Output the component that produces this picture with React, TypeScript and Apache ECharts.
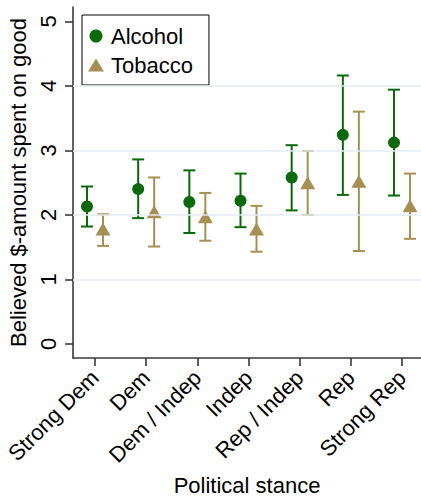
import React, { useEffect, useRef } from "react";
import * as echarts from "echarts";

const categories = ["Strong Dem", "Dem", "Dem / Indep", "Indep", "Rep / Indep", "Rep", "Strong Rep"];
const alcoholMean = [2.13, 2.4, 2.2, 2.22, 2.58, 3.24, 3.12];
const alcoholLow = [1.82, 1.95, 1.72, 1.81, 2.07, 2.31, 2.3];
const alcoholHigh = [2.44, 2.86, 2.69, 2.64, 3.08, 4.16, 3.94];
const tobaccoMean = [1.78, 2.05, 1.97, 1.78, 2.5, 2.52, 2.14];
const tobaccoLow = [1.52, 1.51, 1.6, 1.43, 2.0, 1.44, 1.63];
const tobaccoHigh = [2.01, 2.58, 2.34, 2.14, 2.99, 3.6, 2.64];
const yTicks = [0, 1, 2, 3, 4, 5];
const gridValues = [1, 2, 3, 4];

const GREEN = "#0b690b";
const SAND = "#a68f52";
const FONT = "'Liberation Sans', Arial, Helvetica, sans-serif";
const FS = 22;

function errorSeries(name: string, low: number[], high: number[], color: string, dx: number) {
  return {
    type: "custom",
    name: name + "_ci",
    silent: true,
    z: 2,
    data: low.map((l, i) => [i, l, high[i]]),
    renderItem: (params: any, api: any) => {
      const x = api.value(0);
      const lo = api.coord([x, api.value(1)]);
      const hi = api.coord([x, api.value(2)]);
      const px = lo[0] + dx;
      const cap = 6;
      const style = { stroke: color, lineWidth: 2 };
      return {
        type: "group",
        children: [
          { type: "line", shape: { x1: px, y1: lo[1], x2: px, y2: hi[1] }, style },
          { type: "line", shape: { x1: px - cap, y1: lo[1], x2: px + cap, y2: lo[1] }, style },
          { type: "line", shape: { x1: px - cap, y1: hi[1], x2: px + cap, y2: hi[1] }, style },
        ],
      };
    },
  };
}

export default function App() {
  const ref = useRef<HTMLDivElement>(null);
  useEffect(() => {
    if (!ref.current) return;
    const chart = echarts.init(ref.current, undefined, { renderer: "svg" });
    const axisLineStyle = { color: "#3a3a3a", width: 1.6 };
    chart.setOption({
      animation: false,
      backgroundColor: "#ffffff",
      textStyle: { fontFamily: FONT },
      grid: { left: 73, top: 7, right: 0, bottom: 139, containLabel: false, outerBoundsMode: "none" },
      legend: {
        orient: "vertical",
        left: 82,
        top: 15,
        padding: [10, 16, 9, 6],
        borderColor: "#000",
        borderWidth: 1,
        backgroundColor: "#fff",
        itemWidth: 16,
        itemHeight: 13,
        itemGap: 7,
        textStyle: { fontSize: FS, color: "#000", fontFamily: FONT, lineHeight: 22, padding: [0, 0, 0, 2] },
        data: ["Alcohol", "Tobacco"],
      },
      xAxis: {
        type: "value",
        min: -0.43,
        max: 6.371,
        name: "Political stance",
        nameLocation: "middle",
        nameGap: 116,
        nameTextStyle: { fontSize: FS, color: "#000", fontFamily: FONT },
        axisLine: { show: true, onZero: false, lineStyle: axisLineStyle },
        axisTick: { show: true, length: 8, lineStyle: axisLineStyle, customValues: categories.map((_, i) => i) },
        axisLabel: {
          show: true,
          customValues: categories.map((_, i) => i),
          formatter: (v: number) => categories[Math.round(v)] ?? "",
          rotate: 45,
          margin: 16,
          fontSize: FS,
          color: "#000",
          fontFamily: FONT,
          hideOverlap: false,
        },
        splitLine: { show: false },
      },
      yAxis: {
        type: "value",
        min: -0.217,
        max: 5.221,
        name: "Believed $-amount spent on good",
        nameLocation: "middle",
        nameGap: 29,
        nameRotate: 90,
        nameTextStyle: { fontSize: FS, color: "#000", fontFamily: FONT },
        axisLine: { show: true, onZero: false, lineStyle: axisLineStyle },
        axisTick: { show: true, length: 8, lineStyle: axisLineStyle, customValues: yTicks },
        axisLabel: {
          show: true,
          customValues: yTicks,
          rotate: 90,
          margin: 14,
          fontSize: FS,
          color: "#000",
          fontFamily: FONT,
        },
        splitLine: { show: false },
      },
      series: [
        {
          type: "scatter",
          name: "grid",
          data: [],
          silent: true,
          z: 1,
          markLine: {
            silent: true,
            symbol: ["none", "none"],
            label: { show: false },
            lineStyle: { color: "#e3ebef", width: 1.5, type: "solid" },
            data: gridValues.map((v) => ({ yAxis: v })),
          },
        },
        errorSeries("Alcohol", alcoholLow, alcoholHigh, GREEN, -8),
        errorSeries("Tobacco", tobaccoLow, tobaccoHigh, SAND, 8),
        {
          type: "scatter",
          name: "Alcohol",
          symbol: "circle",
          symbolSize: 12,
          symbolOffset: [-8, 0],
          itemStyle: { color: GREEN, opacity: 1 },
          z: 3,
          data: alcoholMean.map((v, i) => [i, v]),
        },
        {
          type: "scatter",
          name: "Tobacco",
          symbol: "triangle",
          symbolSize: [15, 13],
          symbolOffset: [8, 0],
          itemStyle: { color: SAND, opacity: 1 },
          z: 3,
          data: tobaccoMean.map((v, i) => [i, v]),
        },
      ],
    });
    return () => chart.dispose();
  }, []);
  return (
    <div
      ref={ref}
      style={{ position: "absolute", left: 0, top: 0, width: 421, height: 497, background: "#fff" }}
    />
  );
}
